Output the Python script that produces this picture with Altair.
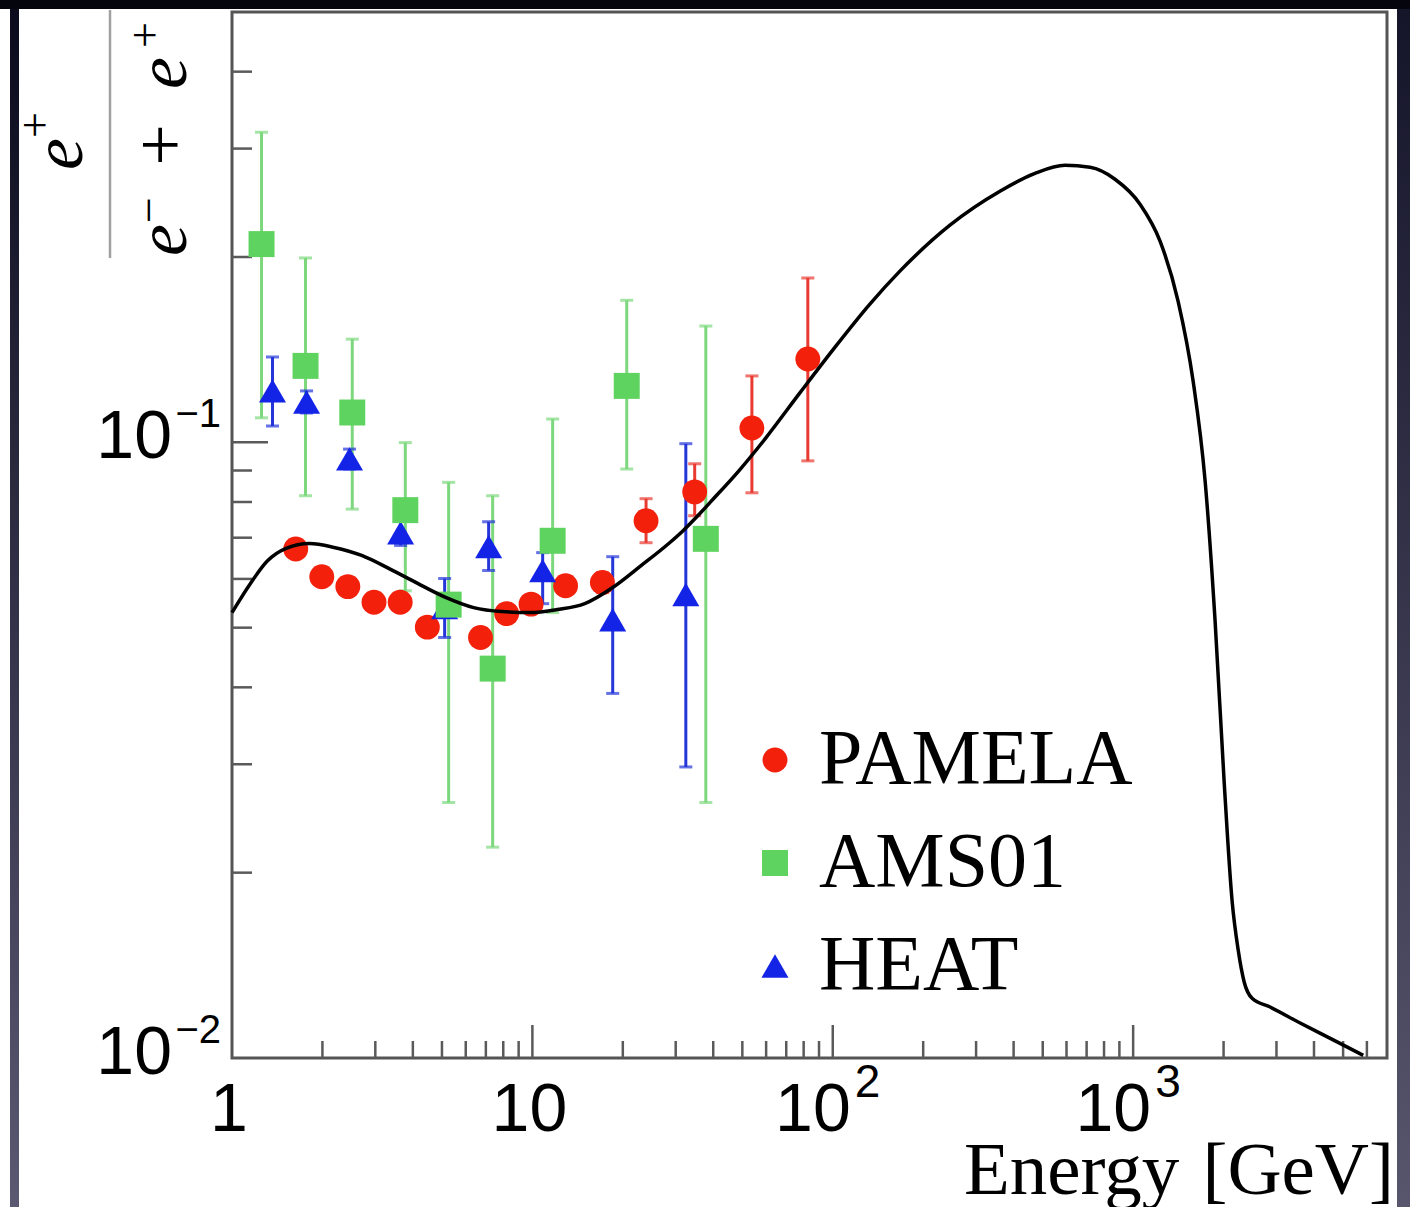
import altair as alt
import pandas as pd

# ---------------- data ----------------
series_names = ["PAMELA", "AMS01", "HEAT"]

pamela_E = [1.63, 1.99, 2.43, 2.97, 3.63, 4.47, 6.72, 8.21, 9.90, 12.9, 17.1, 23.9, 34.7, 53.8, 82.6]
pamela_v = [0.0671, 0.0605, 0.0583, 0.0550, 0.0550, 0.0501, 0.0482, 0.0527, 0.0546, 0.0585, 0.0592,
            0.0746, 0.0831, 0.1055, 0.1366]
pamela_lo = [0.0652, 0.0588, 0.0567, 0.0535, 0.0535, 0.0487, 0.0468, 0.0512, 0.0530, 0.0568, 0.0570,
             0.0687, 0.0760, 0.0828, 0.0933]
pamela_hi = [0.0690, 0.0622, 0.0599, 0.0565, 0.0565, 0.0515, 0.0496, 0.0542, 0.0562, 0.0602, 0.0614,
             0.0810, 0.0923, 0.1282, 0.1849]

ams_E = [1.254, 1.757, 2.514, 3.776, 5.263, 7.375, 11.68, 20.61, 37.79]
ams_v = [0.2099, 0.1331, 0.1118, 0.0776, 0.0545, 0.0429, 0.0692, 0.1235, 0.0697]
ams_lo = [0.1096, 0.0819, 0.0779, 0.0574, 0.0260, 0.0220, 0.0529, 0.0905, 0.0260]
ams_hi = [0.3189, 0.1993, 0.1471, 0.0999, 0.0861, 0.0819, 0.1091, 0.1701, 0.1545]

heat_E = [1.364, 1.771, 2.462, 3.642, 5.104, 7.151, 10.82, 18.51, 32.42]
heat_v = [0.1212, 0.1163, 0.0940, 0.0713, 0.0539, 0.0677, 0.0619, 0.0515, 0.0566]
heat_lo = [0.1063, 0.1116, 0.0905, 0.0680, 0.0482, 0.0619, 0.0547, 0.0391, 0.0297]
heat_hi = [0.1376, 0.1212, 0.0975, 0.0746, 0.0601, 0.0743, 0.0662, 0.0652, 0.0995]

curve_E = [1.0, 1.152, 1.313, 1.507, 1.812, 2.187, 2.701, 3.347, 4.149, 5.142, 6.375, 7.901, 9.795,
           12.09, 14.94, 18.51, 22.95, 28.44, 31.68, 35.27, 39.26, 48.68, 59.89, 77.7, 100.1, 132.9,
           167.3, 245.5, 360.2, 471.2, 593.2, 718.6, 870.2, 1054, 1229, 1411, 1583, 1736, 1874, 2008,
           2135, 2236, 2341, 2489, 2858, 3597, 4634, 5833]
curve_v = [0.0529, 0.0590, 0.0642, 0.0672, 0.0685, 0.0675, 0.0655, 0.0623, 0.0590, 0.0560, 0.0539,
           0.0531, 0.0529, 0.0535, 0.0547, 0.0581, 0.0630, 0.0685, 0.0718, 0.0757, 0.0801, 0.0899,
           0.1017, 0.1203, 0.1413, 0.1677, 0.1897, 0.2253, 0.2558, 0.2735, 0.2818, 0.2797, 0.2675,
           0.2437, 0.2122, 0.1696, 0.1259, 0.0866, 0.0513, 0.0282, 0.0180, 0.0150, 0.0133, 0.0125,
           0.0121, 0.0114, 0.0107, 0.0101]

# axis ticks / labels
x_major_ticks = [10, 100, 1000]
x_minor_ticks = [2, 3, 4, 5, 6, 7, 8, 9, 20, 30, 40, 50, 60, 70, 80, 90,
                 200, 300, 400, 500, 600, 700, 800, 900, 2000, 3000, 4000, 5000, 6000]
y_major_ticks = [0.1]
y_minor_ticks = [0.02, 0.03, 0.04, 0.05, 0.06, 0.07, 0.08, 0.09, 0.2, 0.3, 0.4]

x_plain_vals = [1, 10]
x_plain_text = ["1", "10"]
x_pow_vals = [100, 1000]
x_pow_base = ["10", "10"]
x_pow_exp = ["2", "3"]
y_pow_vals = [0.1, 0.01]
y_pow_base = ["10", "10"]
y_pow_exp = ["\u22121", "\u22122"]

# ---------------- styles ----------------
marker_colors = ["#f3200c", "#5fd35f", "#1424e6"]
error_colors = ["#e83a30", "#7dd87d", "#2436d8"]
marker_shapes = ["circle", "square", "triangle-up"]
marker_sizes = [620, 730, 730]
SANS = "Liberation Sans Narrow, Liberation Sans, Arial, sans-serif"
SERIF = "Liberation Serif, Times New Roman, serif"

W, H = 1155, 1046
xs = alt.Scale(type="log", domain=[1, 7000], nice=False)
ys = alt.Scale(type="log", domain=[0.01, 0.5], nice=False)
X = lambda f: alt.X(f, type="quantitative", scale=xs, axis=None)
Y = lambda f: alt.Y(f, type="quantitative", scale=ys, axis=None)

frames = []
for name, E, v, lo, hi in [("PAMELA", pamela_E, pamela_v, pamela_lo, pamela_hi),
                           ("AMS01", ams_E, ams_v, ams_lo, ams_hi),
                           ("HEAT", heat_E, heat_v, heat_lo, heat_hi)]:
    frames.append(pd.DataFrame({"E": E, "v": v, "lo": lo, "hi": hi, "series": name}))
# drawing order: PAMELA, HEAT, AMS01
order = {"PAMELA": 0, "HEAT": 1, "AMS01": 2}
pts = pd.concat(frames, ignore_index=True)
pts["ord"] = pts["series"].map(order)
pts = pts.sort_values("ord").reset_index(drop=True)

curve = pd.DataFrame({"E": curve_E, "v": curve_v})

layers = []

# axis ticks (drawn inside the frame, as in the reference)
tick_col = "#5a5a5a"
layers.append(alt.Chart(pd.DataFrame({"t": y_minor_ticks})).mark_rule(color=tick_col, strokeWidth=2.5)
              .encode(y=Y("t"), x=alt.value(0), x2=alt.value(20)))
layers.append(alt.Chart(pd.DataFrame({"t": y_major_ticks})).mark_rule(color=tick_col, strokeWidth=2.5)
              .encode(y=Y("t"), x=alt.value(0), x2=alt.value(36)))
layers.append(alt.Chart(pd.DataFrame({"t": x_minor_ticks})).mark_rule(color=tick_col, strokeWidth=2.5)
              .encode(x=X("t"), y=alt.value(H), y2=alt.value(H - 17)))
layers.append(alt.Chart(pd.DataFrame({"t": x_major_ticks})).mark_rule(color=tick_col, strokeWidth=2.5)
              .encode(x=X("t"), y=alt.value(H), y2=alt.value(H - 33)))

# error bars
for name, col in zip(series_names, error_colors):
    sub = pts[pts["series"] == name]
    base = alt.Chart(sub)
    layers.append(base.mark_rule(color=col, strokeWidth=3).encode(x=X("E"), y=Y("lo"), y2=alt.Y2("hi")))
    layers.append(base.mark_tick(color=col, orient="horizontal", size=13, thickness=3)
                  .encode(x=X("E"), y=Y("hi")))
    layers.append(base.mark_tick(color=col, orient="horizontal", size=13, thickness=3)
                  .encode(x=X("E"), y=Y("lo")))

leg = alt.Legend(orient="none", legendX=504, legendY=709, title=None,
                 labelFont=SERIF, labelFontSize=78, labelColor="black", labelLimit=800,
                 labelOffset=5, rowPadding=25, padding=0, symbolStrokeWidth=0, symbolOpacity=1)

layers.append(
    alt.Chart(pts).mark_point(filled=True, opacity=1, strokeWidth=0).encode(
        x=X("E"), y=Y("v"),
        color=alt.Color("series:N", scale=alt.Scale(domain=series_names, range=marker_colors), legend=leg),
        shape=alt.Shape("series:N", scale=alt.Scale(domain=series_names, range=marker_shapes), legend=leg),
        size=alt.Size("series:N", scale=alt.Scale(domain=series_names, range=marker_sizes), legend=leg),
        order=alt.Order("ord:Q"),
    )
)

# model curve
layers.append(alt.Chart(curve).mark_line(color="black", strokeWidth=3.5, interpolate="monotone")
              .encode(x=X("E"), y=Y("v")))

# tick labels
LBL = 68
layers.append(alt.Chart(pd.DataFrame({"val": x_plain_vals, "txt": x_plain_text}))
              .mark_text(font=SANS, fontSize=LBL, align="center", baseline="alphabetic", dx=-3, color="black")
              .encode(x=X("val"), y=alt.value(H + 73), text="txt:N"))
layers.append(alt.Chart(pd.DataFrame({"val": x_pow_vals, "txt": x_pow_base}))
              .mark_text(font=SANS, fontSize=LBL, align="right", baseline="alphabetic", dx=18, color="black")
              .encode(x=X("val"), y=alt.value(H + 73), text="txt:N"))
layers.append(alt.Chart(pd.DataFrame({"val": x_pow_vals, "txt": x_pow_exp}))
              .mark_text(font=SANS, fontSize=46, align="left", baseline="alphabetic", dx=22, color="black")
              .encode(x=X("val"), y=alt.value(H + 39), text="txt:N"))
layers.append(alt.Chart(pd.DataFrame({"val": y_pow_vals, "txt": y_pow_base}))
              .mark_text(font=SANS, fontSize=LBL, align="right", baseline="alphabetic", dy=16, color="black")
              .encode(y=Y("val"), x=alt.value(-60), text="txt:N"))
layers.append(alt.Chart(pd.DataFrame({"val": y_pow_vals, "txt": y_pow_exp}))
              .mark_text(font=SANS, fontSize=40, align="right", baseline="alphabetic", dy=-15, color="black")
              .encode(y=Y("val"), x=alt.value(-11), text="txt:N"))

# axis titles
one = alt.Data(values=[{}])
layers.append(alt.Chart(one).mark_text(text="Energy", font=SERIF, fontSize=75, align="left",
                                       baseline="alphabetic", color="black")
              .encode(x=alt.value(732), y=alt.value(1182)))
layers.append(alt.Chart(one).mark_text(text="[GeV]", font=SERIF, fontSize=75, align="right",
                                       baseline="alphabetic", color="black")
              .encode(x=alt.value(1162), y=alt.value(1182)))

# y title: e+ / (e- + e+), rotated
def glyph(txt, x, y, size, italic=False):
    kw = dict(text=txt, font=SERIF, fontSize=size, align="center", baseline="middle",
              angle=270, color="black")
    if italic:
        kw["fontStyle"] = "italic"
    return alt.Chart(one).mark_text(**kw).encode(x=alt.value(x), y=alt.value(y))

layers += [
    glyph("e", -172, 142, 72, True),
    glyph("+", -196, 113, 46),
    glyph("e", -68, 228, 72, True),
    glyph("\u2212", -82, 198, 46),
    glyph("+", -69, 133, 74),
    glyph("e", -68, 61, 72, True),
    glyph("+", -86, 23, 46),
]
layers.append(alt.Chart(one).mark_rule(color="#a0a0a0", strokeWidth=2.5)
              .encode(x=alt.value(-122), y=alt.value(-2), y2=alt.value(246)))

# dark photo edges around the slide
grad_left = alt.LinearGradient(gradient="linear", x1=0, x2=0, y1=0, y2=1,
                               stops=[alt.GradientStop(color="#0a0a1c", offset=0),
                                      alt.GradientStop(color="#5b5872", offset=1)])
grad_right = alt.LinearGradient(gradient="linear", x1=0, x2=0, y1=0, y2=1,
                                stops=[alt.GradientStop(color="#15152a", offset=0),
                                       alt.GradientStop(color="#57566c", offset=1)])
layers.append(alt.Chart(one).mark_rect(fill=grad_left)
              .encode(x=alt.value(-222), x2=alt.value(-213), y=alt.value(-12), y2=alt.value(1195)))
layers.append(alt.Chart(one).mark_rect(fill=grad_right)
              .encode(x=alt.value(1165), x2=alt.value(1178), y=alt.value(-12), y2=alt.value(1195)))
layers.append(alt.Chart(one).mark_rect(fill="#05050d")
              .encode(x=alt.value(-232), x2=alt.value(1178), y=alt.value(-12), y2=alt.value(-3)))

chart = (
    alt.layer(*layers)
    .properties(width=W, height=H, background="white",
                padding={"left": 232, "top": 12, "right": 23, "bottom": 149},
                autosize=alt.AutoSizeParams(type="none"))
    .configure_view(stroke="#555555", strokeWidth=3)
)

chart.save("out.html", embed_options={"renderer": "svg", "actions": False})
